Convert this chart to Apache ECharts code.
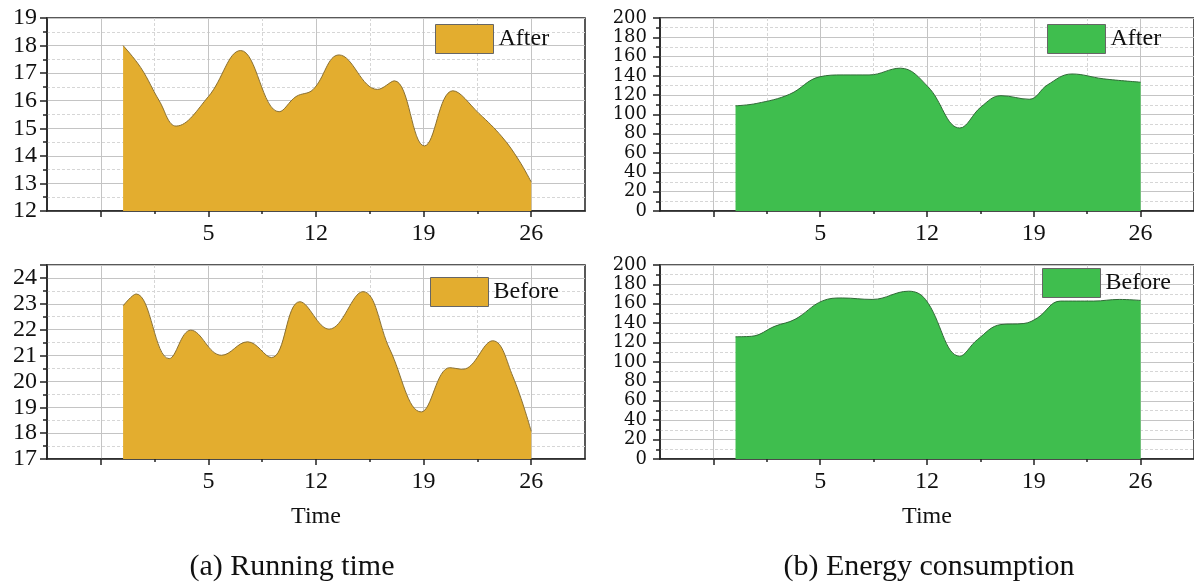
<!DOCTYPE html>
<html>
<head>
<meta charset="utf-8">
<script src="https://cdn.jsdelivr.net/npm/echarts@6/dist/echarts.min.js"></script>
<style>
  html, body { margin: 0; padding: 0; background: #fff; }
  #chart { width: 1194px; height: 585px; }
</style>
</head>
<body>
<div id="chart"></div>
<script>
  // values (x = time, y = value)
  var runAfterX = [-0.55, 0.6, 1.8, 2.9, 5, 7.1, 9.6, 10.7, 11.8, 13.5, 16.0, 17.1, 19.05, 20.9, 22.6, 24.1, 25.2, 26];
  var runAfterY = [18.0, 17.2, 16.0, 15.08, 16.15, 17.82, 15.6, 16.15, 16.4, 17.66, 16.41, 16.72, 14.36, 16.36, 15.54, 14.69, 13.84, 13.05];

  var runBeforeX = [-0.55, 0.3, 2.45, 3.85, 5.85, 7.55, 9.1, 10.95, 12.85, 15.05, 16.8, 18.85, 20.7, 21.55, 23.5, 24.8, 26];
  var runBeforeY = [22.92, 23.38, 20.88, 21.98, 21.01, 21.53, 20.92, 23.08, 22.02, 23.47, 21.24, 18.82, 20.53, 20.47, 21.57, 20.2, 18.07];

  var energyAfterX = [-0.55, 0.85, 3.0, 4.95, 6.5, 8.2, 10.25, 12.05, 14.15, 15.55, 16.85, 18.7, 19.9, 21.5, 23.55, 26];
  var energyAfterY = [109, 111.5, 121, 139, 141, 141, 148, 129, 86, 108, 119.5, 115.8, 130.7, 142, 137, 133.5];

  var energyBeforeX = [-0.55, 0.5, 2.05, 3.35, 5.15, 6.45, 8.4, 10.8, 11.9, 14.15, 15.3, 16.85, 18.35, 19.25, 20.75, 22.9, 24.6, 26];
  var energyBeforeY = [126, 126.5, 137, 144, 163, 166, 164.5, 173, 164.5, 106, 123, 138.6, 139.7, 145.6, 162.8, 162.8, 164.5, 163.5];

  var majorTicks = [-2, 5, 12, 19, 26];
  var minorTicks = [1.5, 8.5, 15.5, 22.5];
  var tickLabels = [5, 12, 19, 26];

  var FONT = 'Liberation Serif';
  var GOLD = '#E3AD2F';
  var GREEN = '#3FBE4E';

  function pairs(xs, ys) {
    return xs.map(function (x, i) { return [x, ys[i]]; });
  }

  var grids = [
    {left: 47, top: 18, width: 538, height: 193},
    {left: 47, top: 265, width: 538, height: 194},
    {left: 660, top: 18, width: 538, height: 193},
    {left: 660, top: 265, width: 538, height: 194}
  ];

  var xAxes = [];
  grids.forEach(function (g, i) {
    xAxes.push({
      gridIndex: i, type: 'value', min: -5.5, max: 29.5, position: 'bottom',
      name: i % 2 === 1 ? 'Time' : '', nameLocation: 'middle', nameGap: 46,
      nameTextStyle: {fontFamily: FONT, fontSize: 24, color: '#111'},
      axisLine: {show: true, onZero: false, lineStyle: {color: '#222', width: 1.5}},
      axisTick: {show: true, customValues: majorTicks, length: 6, lineStyle: {color: '#222', width: 1.5}},
      axisLabel: {customValues: tickLabels, fontFamily: FONT, fontSize: 24, color: '#111', margin: 11},
      splitLine: {show: true, lineStyle: {color: '#c4c4c4', width: 1}}
    });
    xAxes.push({
      gridIndex: i, type: 'value', min: -5.5, max: 29.5, position: 'bottom',
      axisLine: {show: false, onZero: false},
      axisTick: {show: true, customValues: minorTicks, length: 3, lineStyle: {color: '#222', width: 1.5}},
      axisLabel: {show: false},
      splitLine: {show: true, lineStyle: {color: '#d6d6d6', width: 1, type: [3, 2]}}
    });
  });

  var yRanges = [
    {min: 12, max: 19, interval: 1},
    {min: 17, max: 24.5, interval: 1},
    {min: 0, max: 200, interval: 20},
    {min: 0, max: 200, interval: 20}
  ];
  var yAxes = yRanges.map(function (r, i) {
    var energy = i >= 2;
    return {
      gridIndex: i, type: 'value', min: r.min, max: r.max, interval: r.interval,
      axisLine: {show: true, onZero: false, lineStyle: {color: '#222', width: 1.5}},
      axisTick: {show: true, length: 7, lineStyle: {color: '#222', width: 1.5}},
      minorTick: {show: true, splitNumber: 2, length: 4, lineStyle: {color: '#222', width: 1.5}},
      axisLabel: {fontFamily: energy ? 'DejaVu Serif' : FONT, fontSize: energy ? 18 : 24, color: '#111',
                  margin: energy ? 13 : 10, showMinLabel: true, showMaxLabel: i !== 1, hideOverlap: false},
      splitLine: {show: true, lineStyle: {color: '#c4c4c4', width: 1}},
      minorSplitLine: {show: true, lineStyle: {color: '#d6d6d6', width: 1, type: [3, 2]}}
    };
  });

  var seriesDefs = [
    {name: 'runAfter', label: 'After', data: pairs(runAfterX, runAfterY), color: GOLD, edge: '#8a7032'},
    {name: 'runBefore', label: 'Before', data: pairs(runBeforeX, runBeforeY), color: GOLD, edge: '#8a7032'},
    {name: 'energyAfter', label: 'After', data: pairs(energyAfterX, energyAfterY), color: GREEN, edge: '#2f6a36'},
    {name: 'energyBefore', label: 'Before', data: pairs(energyBeforeX, energyBeforeY), color: GREEN, edge: '#2f6a36'}
  ];
  var labelOf = {};
  seriesDefs.forEach(function (s) { labelOf[s.name] = s.label; });

  var series = seriesDefs.map(function (s, i) {
    return {
      name: s.name, type: 'line', xAxisIndex: i * 2, yAxisIndex: i,
      data: s.data, smooth: 0.4, showSymbol: false, color: s.color,
      lineStyle: {color: s.edge, width: 1},
      areaStyle: {color: s.color, opacity: 1, origin: 'start'},
      z: 3
    };
  });

  var legendPos = [[430, 19], [425, 272], [1042, 19], [1037, 263]];
  var legends = seriesDefs.map(function (s, i) {
    return {
      data: [s.name], left: legendPos[i][0], top: legendPos[i][1],
      icon: 'rect', itemWidth: 58, itemHeight: 29,
      itemStyle: {borderColor: '#666', borderWidth: 1},
      formatter: function (n) { return labelOf[n]; },
      textStyle: {fontFamily: FONT, fontSize: 24, color: '#111'},
      selectedMode: false
    };
  });

  var chart = echarts.init(document.getElementById('chart'));
  chart.setOption({
    animation: false,
    backgroundColor: '#fff',
    grid: grids.map(function (g) {
      return {left: g.left, top: g.top, width: g.width, height: g.height,
              show: true, borderColor: '#222', borderWidth: 1.5, backgroundColor: 'transparent'};
    }),
    xAxis: xAxes,
    yAxis: yAxes,
    legend: legends,
    series: series,
    graphic: [
      {type: 'text', style: {text: '(a) Running time', font: '30px "Liberation Serif"', fill: '#111', align: 'center', verticalAlign: 'middle', x: 292, y: 567}},
      {type: 'text', style: {text: '(b) Energy consumption', font: '30px "Liberation Serif"', fill: '#111', align: 'center', verticalAlign: 'middle', x: 929, y: 567}}
    ]
  });
</script>
</body>
</html>
